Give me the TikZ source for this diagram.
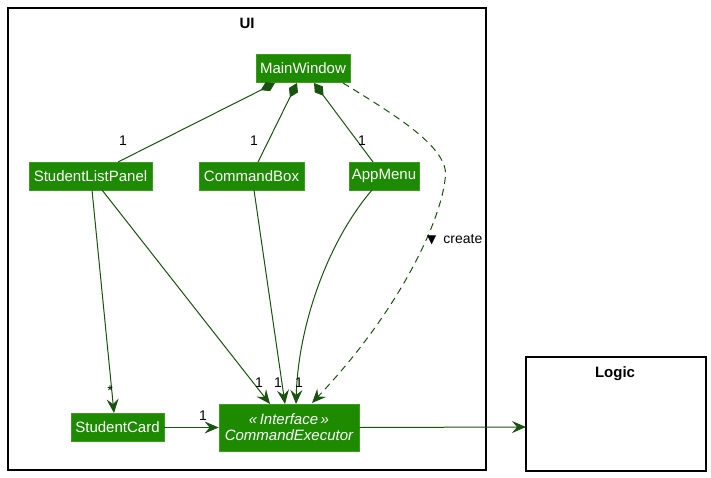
\documentclass[tikz,border=0pt]{standalone}
\usepackage{fontspec}
\setmainfont{Liberation Sans}
\newfontfamily\symfont{DejaVu Sans}
\usetikzlibrary{arrows.meta}
\definecolor{clsfill}{HTML}{1E8A00}
\definecolor{clsborder}{HTML}{3F9B22}
\definecolor{lnk}{HTML}{1A5210}
\tikzset{
  cls/.style={draw=clsborder, fill=clsfill, text=white, font=\fontsize{15}{17}\selectfont, inner sep=0pt, minimum height=28pt, line width=0.8pt},
  frame/.style={draw=black, line width=1.2pt},
  link/.style={draw=lnk, line width=1pt},
  arr/.style={-{Stealth[length=14pt, width=12pt, inset=5pt]}},
  comp/.style={{Diamond[length=16pt, width=10pt]}-},
  mult/.style={font=\fontsize{14}{16}\selectfont, inner sep=0pt},
  ttl/.style={font=\bfseries\fontsize{15}{17}\selectfont, inner sep=0pt}
}
\begin{document}
\begin{tikzpicture}[x=1pt, y=-1pt]
\useasboundingbox (0,0) rectangle (711,478);
% packages
\draw[frame] (8,8) rectangle (486,470);
\node[ttl] (uit) at (247,23) {UI};
\draw[frame] (526,357) rectangle (706,471);
\node[ttl] (logt) at (615,374) {Logic};
\coordinate (logic) at (526,427);
% classes
\node[cls, minimum width=94pt] (mw) at (303,68.5) {MainWindow};
\node[cls, minimum width=123pt] (slp) at (90.5,176) {StudentListPanel};
\node[cls, minimum width=105pt] (cb) at (251.5,176) {CommandBox};
\node[cls, minimum width=70pt] (am) at (384,176) {AppMenu};
\node[cls, minimum width=93pt] (sc) at (117.5,427.5) {StudentCard};
\node[cls, minimum width=140pt, minimum height=47pt, align=center, font=\itshape\fontsize{15}{17}\selectfont] (ce) at (289,427.5) {«\,Interface\,»\\[-1pt]CommandExecutor};
% composition
\draw[link, comp] (275,83) -- (118,162);
\draw[link, comp] (297,83) -- (258,162);
\draw[link, comp] (314,83) -- (373,162);
\node[mult] (m1) at (123,141) {1};
\node[mult] (m2) at (254,141) {1};
\node[mult] (m3) at (362,141) {1};
% dashed create
\draw[link, arr, dashed, dash pattern=on 7pt off 5pt] (343,83) .. controls (400,118) and (452,150) .. (445,180) .. controls (440,222) and (400,310) .. (312,403);
\node[font=\fontsize{14}{16}\selectfont, inner sep=0pt, anchor=west] (cr) at (427,240) {{\symfont\fontsize{12}{13}\selectfont ▼}\,\,\,create};
% associations
\draw[link, arr] (92,190) -- (114,413);
\node[mult] (ms) at (110,391) {*};
\draw[link, arr] (102,190) -- (270,404);
\node[mult] (mc1) at (259,383) {1};
\draw[link, arr] (254,190) -- (285,404);
\node[mult] (mc2) at (278,383) {1};
\draw[link, arr] (372,190) .. controls (325,245) and (298,330) .. (296,404);
\node[mult] (mc3) at (299,383) {1};
\draw[link, arr] (sc.east) -- (ce.west);
\node[mult] (mc4) at (203,416) {1};
\draw[link, arr] (ce.east) -- (logic);
\end{tikzpicture}
\end{document}
